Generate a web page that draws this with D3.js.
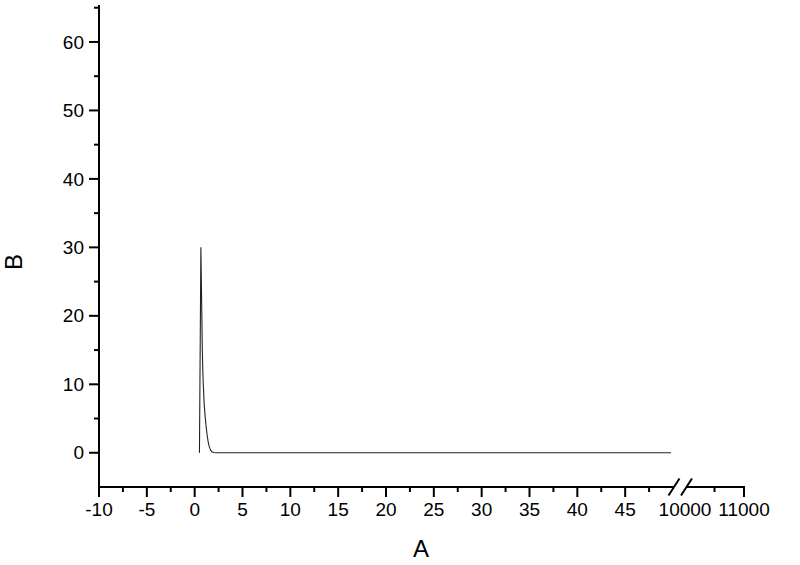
<!DOCTYPE html>
<html>
<head>
<meta charset="utf-8">
<script src="https://cdn.jsdelivr.net/npm/d3@7"></script>
<style>
  body { margin: 0; background: #fff; }
  text { font-family: "Liberation Sans", Arial, sans-serif; fill: #000; }
</style>
</head>
<body>
<div id="chart"></div>
<script>
// curve samples (A, B)
const curveA = [0.5, 0.65, 0.75, 0.8, 0.85, 0.9, 1.0, 1.1, 1.2, 1.3, 1.4, 1.5, 1.6, 1.7, 1.8, 2.0, 2.2, 5, 10, 15, 20, 25, 30, 35, 40, 45, 49.8];
const curveB = [0, 30, 20, 15, 12, 10, 7, 5.2, 3.8, 2.6, 1.7, 1.0, 0.6, 0.3, 0.15, 0.05, 0, 0, 0, 0, 0, 0, 0, 0, 0, 0, 0];

// axis ticks
const xMajorLeft = [-10, -5, 0, 5, 10, 15, 20, 25, 30, 35, 40, 45];
const xMinorLeft = [-7.5, -2.5, 2.5, 7.5, 12.5, 17.5, 22.5, 27.5, 32.5, 37.5, 42.5, 47.5];
const xMajorRight = [11000];
const xMinorRight = [10500];
const xLabelsRight = [10000, 11000];
const yMajor = [0, 10, 20, 30, 40, 50, 60];
const yMinor = [5, 15, 25, 35, 45, 55, 65];

const width = 800, height = 565;

const svg = d3.select('#chart')
  .append('svg')
  .attr('width', width)
  .attr('height', height);

// two x segments with a break between them
const xLeft = d3.scaleLinear().domain([-10, 50]).range([99, 673]);
const xRight = d3.scaleLinear().domain([10000, 11000]).range([685, 744]);
const y = d3.scaleLinear().domain([-5, 65.4]).range([487, 5]);

const axisY = y(-5);

// data line
const line = d3.line()
  .x((d, i) => xLeft(curveA[i]))
  .y((d, i) => y(curveB[i]));

svg.append('path')
  .datum(curveB)
  .attr('d', line)
  .attr('fill', 'none')
  .attr('stroke', '#222')
  .attr('stroke-width', 1.1);

const axes = svg.append('g')
  .attr('stroke', '#000')
  .attr('stroke-width', 2)
  .attr('fill', 'none');

// y axis line
axes.append('line')
  .attr('x1', 99).attr('x2', 99)
  .attr('y1', y(65.4)).attr('y2', axisY + 1);

// x axis, left part and right part
axes.append('line')
  .attr('x1', 98).attr('x2', 674)
  .attr('y1', axisY).attr('y2', axisY);
axes.append('line')
  .attr('x1', 686).attr('x2', xRight(11000) + 1)
  .attr('y1', axisY).attr('y2', axisY);

// break marks
[674, 686.5].forEach(cx => {
  axes.append('line')
    .attr('x1', cx - 5.5).attr('y1', axisY + 8.5)
    .attr('x2', cx + 5.5).attr('y2', axisY - 8.5);
});

// y ticks
axes.selectAll('.ymaj').data(yMajor).enter()
  .append('line')
  .attr('x1', 89).attr('x2', 99)
  .attr('y1', d => y(d)).attr('y2', d => y(d));
axes.selectAll('.ymin').data(yMinor).enter()
  .append('line')
  .attr('x1', 94).attr('x2', 99)
  .attr('y1', d => y(d)).attr('y2', d => y(d));

// x ticks
const xMajorPos = xMajorLeft.map(d => xLeft(d)).concat(xMajorRight.map(d => xRight(d)));
const xMinorPos = xMinorLeft.map(d => xLeft(d)).concat(xMinorRight.map(d => xRight(d)));
axes.selectAll('.xmaj').data(xMajorPos).enter()
  .append('line')
  .attr('x1', d => d).attr('x2', d => d)
  .attr('y1', axisY).attr('y2', axisY + 10);
axes.selectAll('.xmin').data(xMinorPos).enter()
  .append('line')
  .attr('x1', d => d).attr('x2', d => d)
  .attr('y1', axisY).attr('y2', axisY + 5);

// tick labels
svg.selectAll('.ylab').data(yMajor).enter()
  .append('text')
  .attr('x', 84)
  .attr('y', d => y(d))
  .attr('dy', '0.35em')
  .attr('text-anchor', 'end')
  .style('font-size', '19px')
  .text(d => d);

const xLabels = xMajorLeft.map(d => ({ x: xLeft(d), t: d }))
  .concat(xLabelsRight.map(d => ({ x: xRight(d), t: d })));
svg.selectAll('.xlab').data(xLabels).enter()
  .append('text')
  .attr('x', d => d.x)
  .attr('y', 516)
  .attr('text-anchor', 'middle')
  .style('font-size', '19px')
  .text(d => d.t);

// axis titles
svg.append('text')
  .attr('x', 421)
  .attr('y', 557)
  .attr('text-anchor', 'middle')
  .style('font-size', '24px')
  .text('A');

svg.append('text')
  .attr('transform', 'translate(22, 262) rotate(-90)')
  .attr('text-anchor', 'middle')
  .style('font-size', '24px')
  .text('B');
</script>
</body>
</html>
